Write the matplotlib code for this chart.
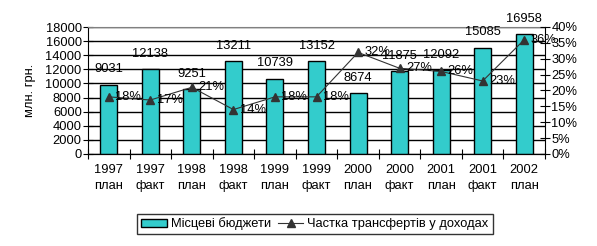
import matplotlib.pyplot as plt
import numpy as np

plt.rcParams['font.family'] = ['Liberation Sans', 'DejaVu Sans']
plt.rcParams['font.size'] = 9.3

# дані
years = ['1997', '1997', '1998', '1998', '1999', '1999', '2000', '2000', '2001', '2001', '2002']
kinds = ['план', 'факт', 'план', 'факт', 'план', 'факт', 'план', 'факт', 'план', 'факт', 'план']
budgets = [9831, 12047, 9251, 13181, 10680, 13152, 8674, 11800, 11950, 15085, 16958]
budget_labels = ['9031', '12138', '9251', '13211', '10739', '13152', '8674', '11875', '12092', '15085', '16958']
share = [18, 17, 21, 14, 18, 18, 32, 27, 26, 23, 36]

x = np.arange(len(years))
fig = plt.figure(figsize=(5.97, 2.46), dpi=100)
ax = fig.add_axes([88 / 597, 1 - 154 / 246, 457 / 597, 127 / 246])

bars = ax.bar(x, budgets, width=0.41, color='#33CCCC', edgecolor='black', linewidth=1,
              zorder=3, label='Місцеві бюджети')
for xi, b, lab in zip(x, budgets, budget_labels):
    ax.text(xi, b + 1300, lab, ha='center', va='bottom', zorder=6)

ax.set_xlim(-0.5, len(years) - 0.5)
ax.set_ylim(0, 18000)
ax.set_yticks(range(0, 18001, 2000))
ax.set_xticks(np.arange(-0.5, len(years), 1))
ax.set_xticklabels([])
ax.tick_params(axis='x', direction='inout', length=7)
ax.tick_params(axis='y', direction='inout', length=7, pad=1)
ax.grid(axis='y', color='black', linewidth=1, zorder=0)
for xi, (yr, k) in enumerate(zip(years, kinds)):
    ax.text(xi, -1400, yr + '\n' + k, ha='center', va='top', linespacing=1.45)
ax.set_ylabel('млн. грн.', labelpad=7)
ax.spines['top'].set_color('gray')
ax.spines['right'].set_visible(False)

ax2 = ax.twinx()
line, = ax2.plot(x, share, color='#333333', linewidth=0.8, marker='^', markersize=5.5,
                 markerfacecolor='#333333', zorder=5, label='Частка трансфертів у доходах')
for xi, s in zip(x, share):
    ax2.text(xi + 0.15, s, f'{s}%', ha='left', va='center', zorder=6)
ax2.set_ylim(0, 40)
ax2.set_yticks(range(0, 41, 5))
ax2.set_yticklabels([f'{v}%' for v in range(0, 41, 5)])
ax2.tick_params(axis='y', direction='inout', length=7, pad=1)
ax2.spines['top'].set_visible(False)
ax2.spines['left'].set_visible(False)

leg = fig.legend([bars, line], ['Місцеві бюджети', 'Частка трансфертів у доходах'],
                 loc='center', bbox_to_anchor=(315 / 597, 1 - 224 / 246), ncol=2,
                 frameon=True, fancybox=False, edgecolor='black', handlelength=2.0,
                 handleheight=0.6, handletextpad=0.3, columnspacing=0.5,
                 borderpad=0.3, borderaxespad=0)
leg.get_frame().set_linewidth(1)

fig.savefig('out.png', dpi=100)
